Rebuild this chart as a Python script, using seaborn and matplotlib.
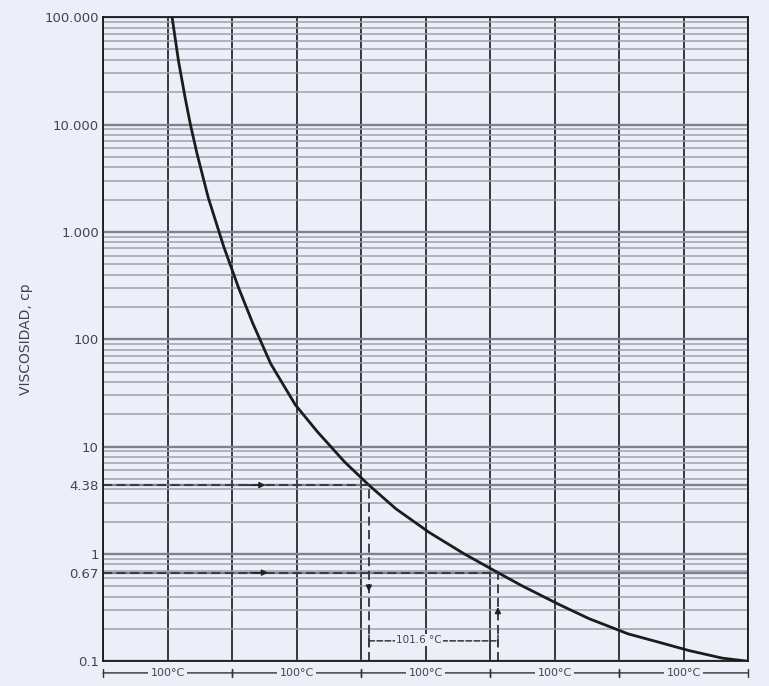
import numpy as np
import pandas as pd
import matplotlib
matplotlib.use("Agg")
import matplotlib.pyplot as plt
import seaborn as sns
from matplotlib.ticker import FixedLocator, NullFormatter, LogLocator

# ---- data ----
temperature = [53.5, 58.5, 63.6, 67.7, 72.8, 81.5, 93.6, 105, 116, 130, 149, 166, 187, 206,
               227, 253, 280, 306, 324, 353, 376.5, 407, 433, 454, 480, 500]
viscosity = [100000, 38900, 17800, 10000, 5370, 2090, 724, 302, 141, 58.9, 24.5, 13.8, 7.24,
             4.38, 2.63, 1.58, 1.0, 0.67, 0.51, 0.34, 0.25, 0.18, 0.148, 0.126, 0.107, 0.1]

ytick_values = [100000, 10000, 1000, 100, 10, 4.38, 1, 0.67, 0.1]
ytick_labels = ["100.000", "10.000", "1.000", "100", "10", "4.38", "1", "0.67", "0.1"]

marked_visc = [4.38, 0.67]
marked_temp = [206, 306]
delta_label = "101.6 °C"
span_label = "100°C"
span_starts = [0, 100, 200, 300, 400]
ylabel = "VISCOSIDAD, cp"

df = pd.DataFrame({"T": temperature, "mu": viscosity})

sns.set_style("white")
plt.rcParams["font.family"] = ["DejaVu Sans"]

bg = "#eceef8"
fig = plt.figure(figsize=(7.69, 6.86), dpi=100, facecolor=bg)
ax = fig.add_axes([0.134, 0.036, 0.839, 0.939])
ax.set_facecolor(bg)

ax.set_yscale("log")
ax.set_xlim(0, 500)
ax.set_ylim(0.1, 100000)

# grids
ax.yaxis.set_minor_locator(LogLocator(base=10, subs=np.arange(2, 10)))
ax.set_xticks(np.arange(0, 501, 50))
ax.xaxis.set_minor_locator(FixedLocator(np.arange(0, 501, 10)))
ax.grid(True, which="major", axis="y", color="#7f8090", lw=1.7)
ax.grid(True, which="minor", axis="y", color="#9fa0b0", lw=1.1)
ax.grid(True, which="major", axis="x", color="#1a1a1a", lw=1.2)
ax.set_axisbelow(True)

ax.set_yticks(ytick_values)
ax.set_yticklabels(ytick_labels, color="#44444e", fontsize=9.5)
ax.yaxis.set_minor_formatter(NullFormatter())
ax.tick_params(axis="y", which="both", length=0, pad=3)
ax.set_xticklabels([])
ax.tick_params(axis="x", which="major", length=0)
ax.tick_params(axis="x", which="minor", direction="in", length=4, width=1, color="#333333")
for s in ax.spines.values():
    s.set_color("#1a1a1a")
    s.set_linewidth(1.3)

ax.set_ylabel(ylabel, color="#44444e", fontsize=10, labelpad=8)

# curve
sns.lineplot(data=df, x="T", y="mu", ax=ax, color="#1c1c1c", lw=2.0, sort=False,
             solid_joinstyle="round")
ax.set_xlabel("")

# dashed guide lines
dash = (0, (5, 2.5))
for v, t in zip(marked_visc, marked_temp):
    ax.plot([0, t], [v, v], color="#333340", lw=1.3, ls=dash)
    ax.plot([t, t], [0.1, v], color="#333340", lw=1.3, ls=dash)

# small arrows on guide lines
ax.annotate("", xy=(128, marked_visc[0]), xytext=(110, marked_visc[0]),
            arrowprops=dict(arrowstyle="-|>", color="#222", lw=1, mutation_scale=9))
ax.annotate("", xy=(130, marked_visc[1]), xytext=(112, marked_visc[1]),
            arrowprops=dict(arrowstyle="-|>", color="#222", lw=1, mutation_scale=9))
ax.annotate("", xy=(marked_temp[0], 0.42), xytext=(marked_temp[0], 0.55),
            arrowprops=dict(arrowstyle="-|>", color="#222", lw=1, mutation_scale=9))
ax.annotate("", xy=(marked_temp[1], 0.34), xytext=(marked_temp[1], 0.26),
            arrowprops=dict(arrowstyle="-|>", color="#222", lw=1, mutation_scale=9))

# delta temperature annotation
ax.annotate("", xy=(marked_temp[1], 0.155), xytext=(marked_temp[0], 0.155),
            arrowprops=dict(arrowstyle="|-|", color="#333", lw=1.1, ls="--",
                            mutation_scale=4, shrinkA=0, shrinkB=0))
ax.text(245, 0.158, delta_label, ha="center", va="center", fontsize=7.5,
        color="#444450", bbox=dict(facecolor=bg, edgecolor="none", pad=1))

# 100 °C brackets below axis
for s0 in span_starts:
    ax.annotate("", xy=(s0 + 100, -0.018), xytext=(s0, -0.018),
                xycoords=("data", "axes fraction"), textcoords=("data", "axes fraction"),
                arrowprops=dict(arrowstyle="|-|", color="#333", lw=1.0,
                                mutation_scale=3, shrinkA=0, shrinkB=0),
                annotation_clip=False)
    ax.text(s0 + 50, -0.018, span_label, transform=ax.get_xaxis_transform(),
            ha="center", va="center", fontsize=8, color="#444450",
            bbox=dict(facecolor=bg, edgecolor="none", pad=1.5), clip_on=False)

fig.savefig("out.png", dpi=100, facecolor=bg)
